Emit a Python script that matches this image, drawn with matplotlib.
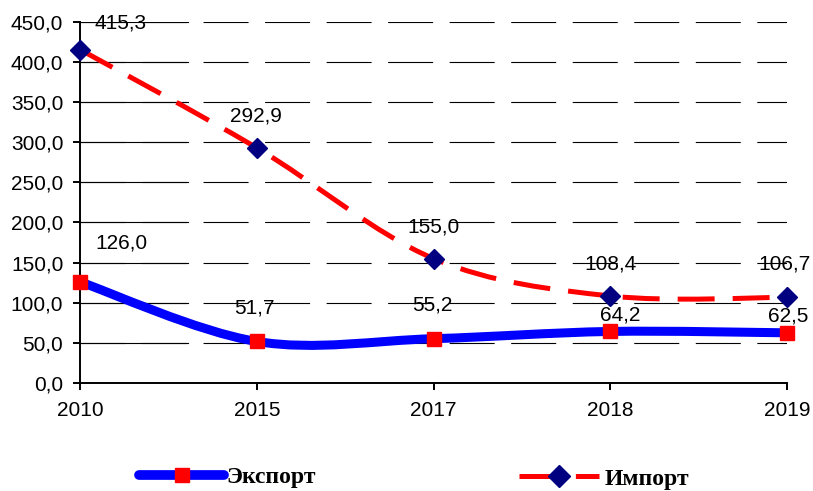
import numpy as np
import matplotlib
matplotlib.use("Agg")
import matplotlib.pyplot as plt
from matplotlib.path import Path
from matplotlib.patches import PathPatch
from matplotlib.lines import Line2D
from matplotlib.font_manager import FontProperties

plt.rcParams['lines.scale_dashes'] = False
plt.rcParams['font.family'] = ['Liberation Sans', 'DejaVu Sans']

categories = ['2010', '2015', '2017', '2018', '2019']
export_vals = [126.0, 51.7, 55.2, 64.2, 62.5]
import_vals = [415.3, 292.9, 155.0, 108.4, 106.7]
export_name = 'Экспорт'
import_name = 'Импорт'
yticks = [0, 50, 100, 150, 200, 250, 300, 350, 400, 450]

# label offsets in pixels (style)
export_off = [(41, 39), (-2, 33), (-1, 34), (10, 16), (1, 17)]
import_off = [(41, 27), (-1, 32), (0, 32), (0, 32), (-3, 33)]

BLUE = '#0000FF'
RED = '#FF0000'
NAVY = '#000080'

fig = plt.figure(figsize=(8.13, 4.91), dpi=100)
ax = fig.add_axes([80 / 813, (491 - 383) / 491, 707 / 813, (383 - 21.7) / 491])

x = np.arange(len(categories))


def smooth_path(xs, ys):
    pts = np.column_stack([xs, ys]).astype(float)
    n = len(pts)
    verts = [pts[0]]
    codes = [Path.MOVETO]
    for i in range(n - 1):
        p0 = pts[i - 1] if i > 0 else pts[i]
        p1 = pts[i]
        p2 = pts[i + 1]
        p3 = pts[i + 2] if i + 2 < n else pts[i + 1]
        c1 = p1 + (p2 - p0) / 6.0
        c2 = p2 - (p3 - p1) / 6.0
        verts += [c1, c2, p2]
        codes += [Path.CURVE4] * 3
    return Path(verts, codes)


# gridlines
for yv in yticks[1:]:
    ax.axhline(yv, color='black', lw=0.8, dashes=(32.4, 11.9), zorder=1)
    ax.axhline(yv, xmin=0, xmax=(188 - 80) / 707, color='black', lw=0.8, zorder=1)

# lines
exp_patch = PathPatch(smooth_path(x, export_vals), fill=False, edgecolor=BLUE,
                      lw=6.5, capstyle='round', joinstyle='round', zorder=3)
ax.add_patch(exp_patch)
imp_patch = PathPatch(smooth_path(x, import_vals), fill=False, edgecolor=RED,
                      lw=3.6, linestyle=(0, (26.6, 13.0)), capstyle='butt', zorder=3)
ax.add_patch(imp_patch)

ax.plot(x, export_vals, ls='none', marker='s', ms=9.4, mfc=RED, mec=RED,
        zorder=5, clip_on=False)
ax.plot(x, import_vals, ls='none', marker='D', ms=10.0, mfc=NAVY, mec=NAVY,
        zorder=5, clip_on=False)

fs = 15
for xi, v, off in zip(x, export_vals, export_off):
    ax.annotate(f'{v:.1f}'.replace('.', ','), (xi, v), xytext=off,
                textcoords='offset pixels', ha='center', va='center',
                fontsize=fs, color='black', zorder=6, annotation_clip=False)
for xi, v, off in zip(x, import_vals, import_off):
    ax.annotate(f'{v:.1f}'.replace('.', ','), (xi, v), xytext=off,
                textcoords='offset pixels', ha='center', va='center',
                fontsize=fs, color='black', zorder=6, annotation_clip=False)

ax.set_xlim(0, len(categories) - 1)
ax.set_ylim(0, 450)
ax.set_xticks(x)
ax.set_xticklabels(categories)
ax.set_yticks(yticks)
ax.set_yticklabels([f'{t:.1f}'.replace('.', ',') for t in yticks])
for s in ['top', 'right']:
    ax.spines[s].set_visible(False)
for s in ['left', 'bottom']:
    ax.spines[s].set_linewidth(1.4)
    ax.spines[s].set_zorder(4)
ax.tick_params(axis='both', direction='out', length=5, width=1.4, labelsize=fs,
               colors='black')
ax.tick_params(axis='x', pad=8)
ax.tick_params(axis='y', pad=7)
ax.set_facecolor('white')

# legends
lp = FontProperties(family='Liberation Serif', weight='bold', size=17)
h_exp = Line2D([], [], color=BLUE, lw=7.0, solid_capstyle='round', marker='s',
               ms=9.8, mfc=RED, mec=RED)
h_imp = Line2D([], [], color=RED, lw=3.6, dashes=(26.6, 14.0), dash_capstyle='butt',
               marker='D', ms=11.0, mfc=NAVY, mec=NAVY)
fig.legend([h_exp], [export_name], loc='center left', bbox_to_anchor=(139 / 813, 1 - 477 / 491),
           frameon=False, prop=lp, handlelength=61.2 / 17, handletextpad=0.12,
           borderpad=0, borderaxespad=0, numpoints=1)
fig.legend([h_imp], [import_name], loc='center left', bbox_to_anchor=(519 / 813, 1 - 479 / 491),
           frameon=False, prop=lp, handlelength=57.6 / 17, handletextpad=0.22,
           borderpad=0, borderaxespad=0, numpoints=1)

fig.savefig('out.png', dpi=100, facecolor='white')
